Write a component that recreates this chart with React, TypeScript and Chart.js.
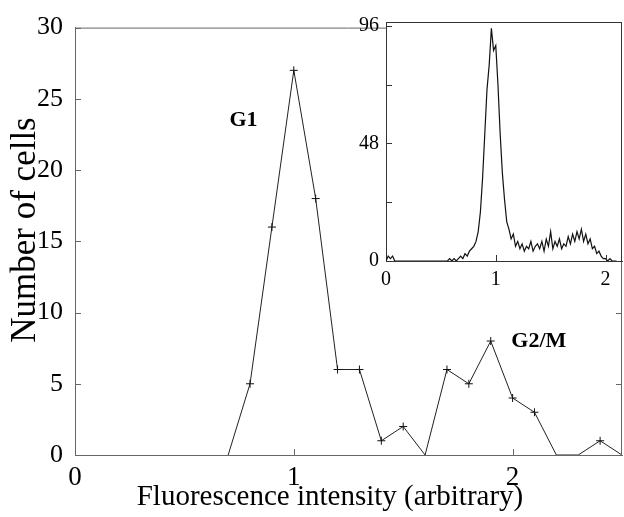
import React, { useEffect, useRef } from "react";
import { Chart, registerables } from "chart.js";

Chart.register(...registerables);

// ---------- data ----------
const mainX = [0.7, 0.8, 0.9, 1.0, 1.1, 1.2, 1.3, 1.4, 1.5, 1.6, 1.7, 1.8, 1.9, 2.0, 2.1, 2.2, 2.3, 2.4, 2.5];
const mainY = [0, 5, 16, 27, 18, 6, 6, 1, 2, 0, 6, 5, 8, 4, 3, 0, 0, 1, 0];
const mainXTicks = [0, 1, 2];
const mainYTicks = [0, 5, 10, 15, 20, 25, 30];
const mainXTitle = "Fluorescence intensity (arbitrary)";
const mainYTitle = "Number of cells";

const insetX = [
  0, 0.02, 0.04, 0.06, 0.08, 0.1, 0.12, 0.14, 0.16, 0.18,
  0.2, 0.22, 0.24, 0.26, 0.28, 0.3, 0.32, 0.34, 0.36, 0.38,
  0.4, 0.42, 0.44, 0.46, 0.48, 0.5, 0.52, 0.54, 0.56, 0.58,
  0.6, 0.62, 0.64, 0.66, 0.68, 0.7, 0.72, 0.74, 0.76, 0.78,
  0.8, 0.82, 0.84, 0.86, 0.88, 0.9, 0.92, 0.94, 0.96, 0.98,
  1.0, 1.02, 1.04, 1.06, 1.08, 1.1, 1.12, 1.14, 1.16, 1.18,
  1.2, 1.22, 1.24, 1.26, 1.28, 1.3, 1.32, 1.34, 1.36, 1.38,
  1.4, 1.42, 1.44, 1.46, 1.48, 1.5, 1.52, 1.54, 1.56, 1.58,
  1.6, 1.62, 1.64, 1.66, 1.68, 1.7, 1.72, 1.74, 1.76, 1.78,
  1.8, 1.82, 1.84, 1.86, 1.88, 1.9, 1.92, 1.94, 1.96, 1.98,
  2.0, 2.02, 2.04, 2.06, 2.08, 2.1,
];
const insetY = [
  0, 2, 1, 2, 0, 0, 0, 0, 0, 0,
  0, 0, 0, 0, 0, 0, 0, 0, 0, 0,
  0, 0, 0, 0, 0, 0, 0, 0, 0, 1,
  0, 1, 0, 1, 2, 1, 3, 2, 4, 5,
  6, 8, 12, 20, 34, 52, 70, 80, 95, 86,
  88, 72, 52, 36, 25, 16, 13, 9, 11, 6,
  8, 5, 7, 4, 6, 5, 8, 4, 6, 7,
  5, 8, 4, 9, 6, 12, 5, 8, 6, 9,
  5, 7, 6, 10, 7, 11, 8, 12, 9, 13,
  8, 11, 7, 9, 5, 6, 3, 4, 2, 1,
  1, 0, 1, 0, 0, 0,
];
const insetXTicks = [0, 1, 2];
const insetYTicks = [0, 48, 96];
const insetYMinor = [24, 72];

const annotations = [
  { text: "G1", x: 0.77, y: 23.5 },
  { text: "G2/M", x: 2.12, y: 8.0 },
];

const SERIF = "'Liberation Serif', 'DejaVu Serif', serif";

function framePlugin(opts: any) {
  return {
    id: "frameTicks",
    beforeDraw(chart: any) {
      if (!opts.fill) return;
      const { left, top, right, bottom } = chart.chartArea;
      const ctx = chart.ctx;
      ctx.save();
      ctx.fillStyle = "#ffffff";
      ctx.fillRect(left, top, right - left, bottom - top);
      ctx.restore();
    },
    afterDraw(chart: any) {
      const ctx = chart.ctx;
      const { left, top, right, bottom } = chart.chartArea;
      const xs = chart.scales.x;
      const ys = chart.scales.y;
      ctx.save();
      ctx.strokeStyle = opts.color;
      ctx.lineWidth = 1;
      ctx.beginPath();
      ctx.moveTo(left, top + 0.5);
      ctx.lineTo(right, top + 0.5);
      ctx.moveTo(right - 0.5, top);
      ctx.lineTo(right - 0.5, bottom);
      for (const v of opts.yTicks) {
        const p = Math.round(ys.getPixelForValue(v)) + 0.5;
        ctx.moveTo(left, p);
        ctx.lineTo(left + opts.len, p);
        if (opts.mirror) {
          ctx.moveTo(right, p);
          ctx.lineTo(right - opts.len, p);
        }
      }
      for (const v of opts.xTicks) {
        const p = Math.round(xs.getPixelForValue(v)) + 0.5;
        ctx.moveTo(p, bottom);
        ctx.lineTo(p, bottom - opts.len);
      }
      ctx.stroke();
      ctx.fillStyle = "#000";
      if (opts.annotations) {
        ctx.font = "bold 22px " + SERIF;
        ctx.textAlign = "center";
        ctx.textBaseline = "middle";
        for (const a of opts.annotations) {
          ctx.fillText(a.text, xs.getPixelForValue(a.x), ys.getPixelForValue(a.y));
        }
      }
      if (opts.xTitle) {
        ctx.font = "29px " + SERIF;
        ctx.textAlign = "center";
        ctx.textBaseline = "middle";
        ctx.fillText(opts.xTitle, 330, 497);
      }
      if (opts.yTitle) {
        ctx.save();
        ctx.translate(26, 230);
        ctx.rotate(-Math.PI / 2);
        ctx.font = "35px " + SERIF;
        ctx.textAlign = "center";
        ctx.textBaseline = "middle";
        ctx.fillText(opts.yTitle, 0, 0);
        ctx.restore();
      }
      ctx.restore();
    },
  };
}

export default function App() {
  const mainRef = useRef<HTMLCanvasElement>(null);
  const insetRef = useRef<HTMLCanvasElement>(null);

  useEffect(() => {
    Chart.defaults.font.family = SERIF;
    Chart.defaults.color = "#000";

    const main = new Chart(mainRef.current!, {
      type: "line",
      data: {
        datasets: [
          {
            data: mainX.map((x, i) => ({ x, y: mainY[i] })),
            borderColor: "#222",
            borderWidth: 1,
            pointStyle: "cross",
            pointRadius: (c: any) => (c.raw && c.raw.y === 0 ? 0 : 4),
            pointBorderColor: "#111",
            pointBorderWidth: 1,
            tension: 0,
            fill: false,
          },
        ],
      },
      options: {
        animation: false,
        responsive: false,
        devicePixelRatio: 1,
        layout: { padding: { top: 23, right: 2, left: 0, bottom: 0 } },
        plugins: { legend: { display: false }, tooltip: { enabled: false } },
        scales: {
          x: {
            type: "linear",
            min: 0,
            max: 2.5,
            grid: { display: false, drawTicks: false },
            border: { display: true, color: "#666", width: 1 },
            afterBuildTicks: (s: any) => {
              s.ticks = mainXTicks.map((v) => ({ value: v }));
            },
            afterFit: (s: any) => {
              s.height = 62;
            },
            ticks: { font: { size: 27 }, padding: 7, maxRotation: 0 },
          },
          y: {
            min: 0,
            max: 30,
            grid: { display: false, drawTicks: false },
            border: { display: true, color: "#666", width: 1 },
            afterBuildTicks: (s: any) => {
              s.ticks = mainYTicks.map((v) => ({ value: v }));
            },
            afterFit: (s: any) => {
              s.width = 75;
            },
            ticks: { font: { size: 26 }, padding: 12 },
          },
        },
      },
      plugins: [
        framePlugin({
          color: "#666",
          len: 6,
          yTicks: mainYTicks,
          xTicks: [1, 2],
          mirror: true,
          annotations,
          xTitle: mainXTitle,
          yTitle: mainYTitle,
        }),
      ],
    } as any);

    const inset = new Chart(insetRef.current!, {
      type: "line",
      data: {
        datasets: [
          {
            data: insetX.map((x, i) => ({ x, y: insetY[i] })),
            borderColor: "#111",
            borderWidth: 1.2,
            pointRadius: 0,
            tension: 0,
            fill: false,
          },
        ],
      },
      options: {
        animation: false,
        responsive: false,
        devicePixelRatio: 1,
        layout: { padding: { top: 22, right: 2, left: 0, bottom: 0 } },
        plugins: { legend: { display: false }, tooltip: { enabled: false } },
        scales: {
          x: {
            type: "linear",
            min: 0,
            max: 2.15,
            grid: { display: false, drawTicks: false },
            border: { display: true, color: "#333", width: 1 },
            afterBuildTicks: (s: any) => {
              s.ticks = insetXTicks.map((v) => ({ value: v }));
            },
            afterFit: (s: any) => {
              s.height = 39;
            },
            ticks: { font: { size: 20 }, padding: 7, maxRotation: 0 },
          },
          y: {
            min: 0,
            max: 97.6,
            grid: { display: false, drawTicks: false },
            border: { display: true, color: "#333", width: 1 },
            afterBuildTicks: (s: any) => {
              s.ticks = insetYTicks.map((v) => ({ value: v }));
            },
            afterFit: (s: any) => {
              s.width = 36;
            },
            ticks: { font: { size: 20 }, padding: 7 },
          },
        },
      },
      plugins: [
        framePlugin({
          color: "#333",
          len: 6,
          yTicks: [...insetYTicks, ...insetYMinor],
          xTicks: [1, 2],
          mirror: false,
          fill: true,
        }),
      ],
    } as any);

    return () => {
      main.destroy();
      inset.destroy();
    };
  }, []);

  return (
    <div style={{ position: "absolute", left: 0, top: 0, width: 624, height: 517, background: "#fff" }}>
      <canvas ref={mainRef} width={624} height={517} style={{ position: "absolute", left: 0, top: 0 }} />
      <canvas ref={insetRef} width={274} height={300} style={{ position: "absolute", left: 350, top: 0 }} />
    </div>
  );
}
